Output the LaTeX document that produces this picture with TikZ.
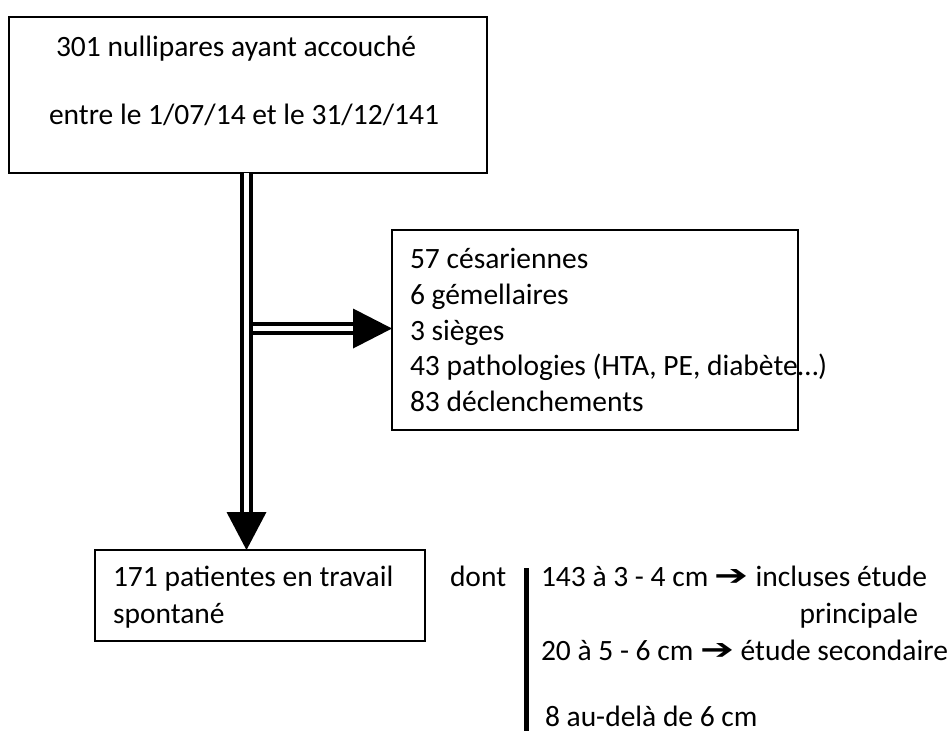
\documentclass[tikz,border=0pt]{standalone}
\usepackage{fontspec}
\setmainfont{Carlito}
\newfontfamily\symfont{DejaVu Sans}
\newcommand{\fleche}{\raisebox{1pt}{\resizebox{34pt}{16pt}{\symfont ➔}}}
\begin{document}
\begin{tikzpicture}[x=1pt,y=-1pt,every node/.style={inner sep=0pt,outer sep=0pt,font=\fontsize{29.5}{35}\selectfont}]
	\tikzstyle{box}=[draw,line width=1.5pt,anchor=north west]
	\tikzstyle{txt}=[anchor=base west]
	\tikzstyle{dbl}=[double,double distance=5pt,line width=4pt]
	\useasboundingbox (0,0) rectangle (947,731);
	% boxes
	\node[box,minimum width=478pt,minimum height=156pt] (total) at (9,17) {};
	\node[box,minimum width=406pt,minimum height=200pt] (excl) at (392,230) {};
	\node[box,minimum width=330pt,minimum height=91pt] (patients) at (95,550) {};
	% texts
	\node[txt] (t1) at (56,56) {301 nullipares ayant accouché};
	\node[txt] (t2) at (49,124) {entre le 1/07/14 et le 31/12/141};
	\foreach \t [count=\i] in {57 césariennes, 6 gémellaires, 3 sièges, {43 pathologies (HTA, PE, diabète…)}, 83 déclenchements}
		\node[txt] (e\i) at (410,{268.7+35.75*(\i-1)}) {\t};
	\node[txt] (p1) at (113,586.7) {171 patientes en travail};
	\node[txt] (p2) at (113,623) {spontané};
	\node[txt] (dont) at (450,586.7) {dont};
	\node[txt] (d1) at (541,586.7) {143 à 3 - 4 cm \fleche{} incluses étude};
	\node[anchor=base east] (d1b) at (918,623) {principale};
	\node[txt] (d2) at (541,660) {20 à 5 - 6 cm \fleche{} étude secondaire};
	\node[txt] (d3) at (545,726) {8 au-delà de 6 cm};
	% arrows
	\coordinate (vx) at (246.5,0);
	\coordinate (hy) at (0,328.5);
	\coordinate (vend) at (patients.north -| vx);
	\coordinate (hstart) at (hy -| vx);
	\coordinate (hend) at (hy -| excl.west);
	\draw[dbl] (total.south -| vx) -- ([yshift=38pt]vend);
	\fill ([shift={(-20pt,38pt)}]vend) -- (vend) -- ([shift={(20pt,38pt)}]vend) -- cycle;
	\draw[dbl] ([xshift=6.5pt]hstart) -- ([xshift=-39pt]hend);
	\fill ([shift={(-39pt,20pt)}]hend) -- (hend) -- ([shift={(-39pt,-20pt)}]hend) -- cycle;
	% bracket
	\coordinate (bartop) at (526,568);
	\coordinate (barbot) at (526,731);
	\draw[line width=5pt] (bartop) -- (barbot);
\end{tikzpicture}
\end{document}
